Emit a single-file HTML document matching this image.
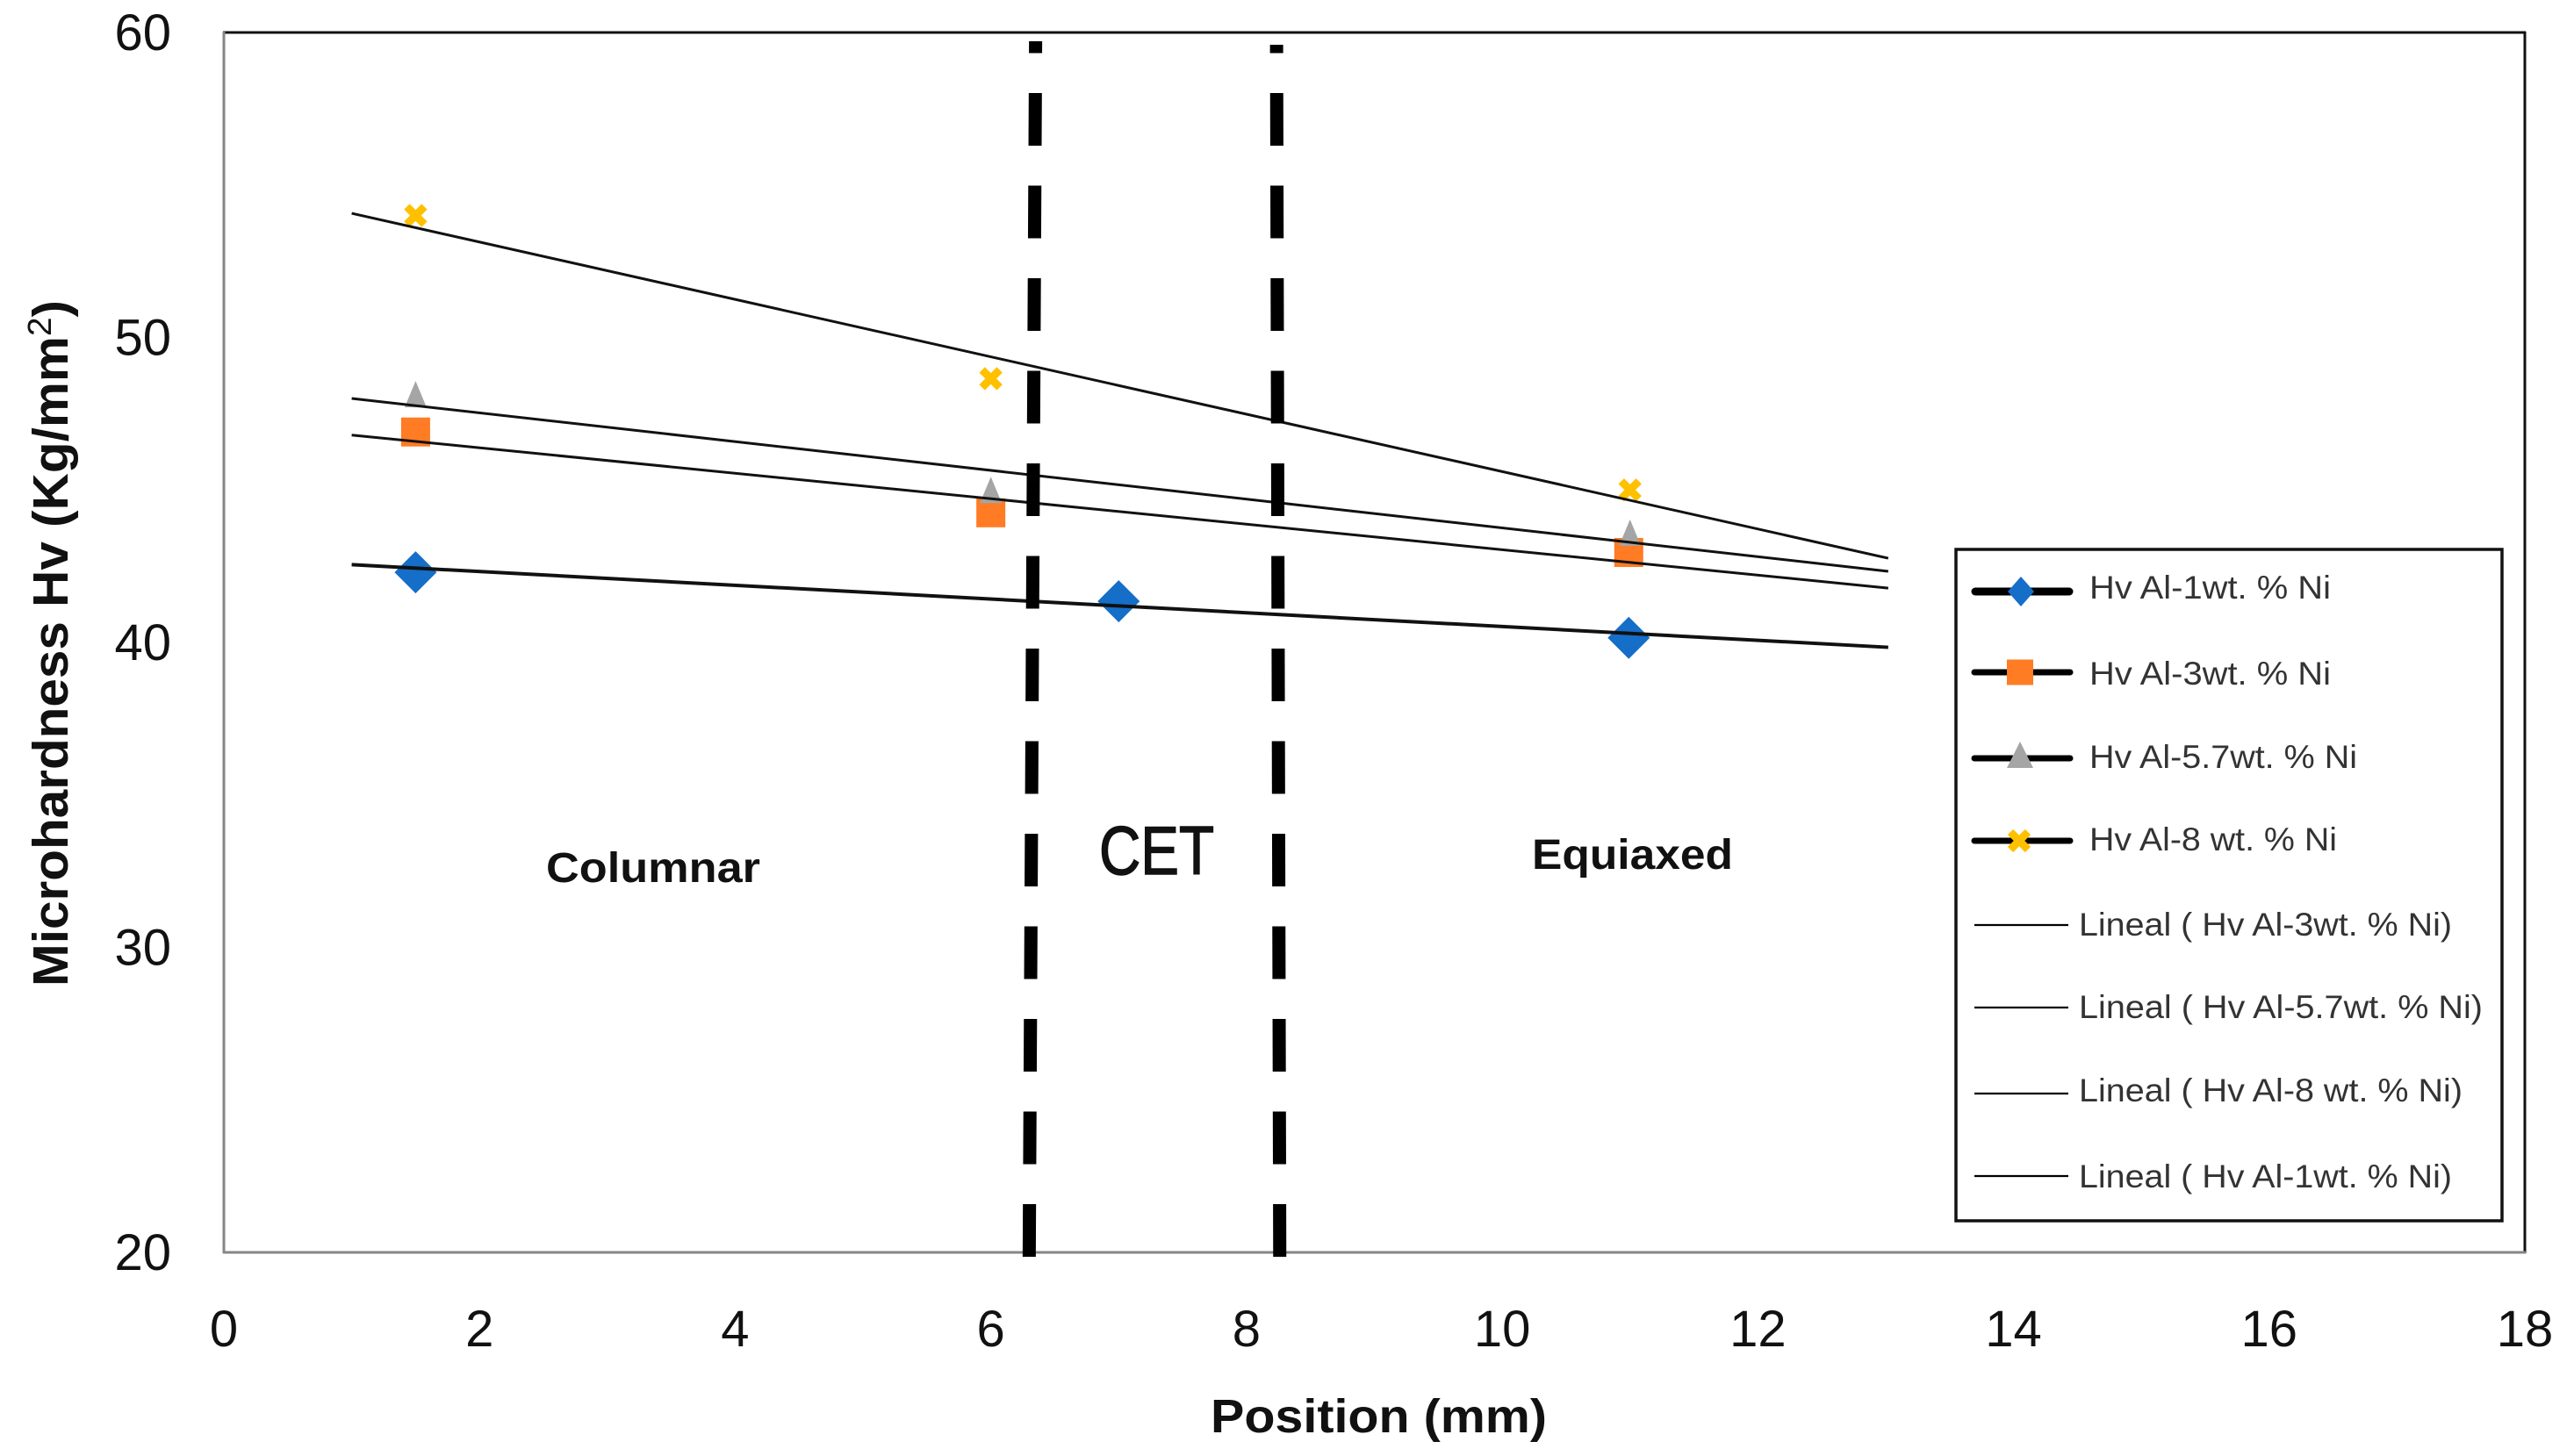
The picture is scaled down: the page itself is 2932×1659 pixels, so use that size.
<!DOCTYPE html>
<html lang="en">
<head>
<meta charset="utf-8">
<title>Microhardness vs Position</title>
<style>
html,body{margin:0;padding:0;background:#fff;}
svg{display:block;}
text{font-family:"Liberation Sans",sans-serif;fill:#111;}
.legend-label{font-size:37px;fill:#333;}
</style>
</head>
<body>
<svg id="chart" xmlns="http://www.w3.org/2000/svg" width="2932" height="1659" viewBox="0 0 2932 1659">
  <rect x="0" y="0" width="2932" height="1659" fill="#fff"/>
  <g id="plot-border">
    <line x1="254" y1="37" x2="2877" y2="37" stroke="#111" stroke-width="3"/>
    <line x1="2876" y1="36" x2="2876" y2="1428" stroke="#111" stroke-width="3"/>
    <line x1="255" y1="36" x2="255" y2="1428" stroke="#868686" stroke-width="3"/>
    <line x1="254" y1="1427" x2="2877" y2="1427" stroke="#868686" stroke-width="3"/>
  </g>
  <g id="x-ticks"></g>
  <g id="y-ticks"></g>
  <text transform="translate(77,1124) rotate(-90)" font-size="57" font-weight="700" textLength="782" lengthAdjust="spacingAndGlyphs">Microhardness Hv (Kg/mm<tspan font-size="38" font-weight="400" dy="-19">2</tspan><tspan dy="19">)</tspan></text>
  <text x="1379" y="1632" font-size="54" font-weight="700" textLength="383" lengthAdjust="spacingAndGlyphs">Position (mm)</text>
  <g id="markers"></g>
  <g id="trends"></g>
  <g id="boundaries"></g>
  <text x="622" y="1005" font-size="48" font-weight="700" textLength="244" lengthAdjust="spacingAndGlyphs">Columnar</text>
  <text x="1252" y="996" font-size="78" stroke="#111" stroke-width="1.5" textLength="131" lengthAdjust="spacingAndGlyphs">CET</text>
  <text x="1745" y="990" font-size="48" font-weight="700" textLength="229" lengthAdjust="spacingAndGlyphs">Equiaxed</text>
  <g id="legend">
    <rect x="2228" y="626" width="622" height="765" fill="#fff" stroke="#111" stroke-width="3.5"/>
    <g>
      <line x1="2250" y1="674" x2="2357" y2="674" stroke="#000" stroke-width="9" stroke-linecap="round"/>
      <polygon points="2302,657 2317,674 2302,691 2287,674" fill="#156EC8"/>
      <text class="legend-label" x="2380" y="682" textLength="275" lengthAdjust="spacingAndGlyphs">Hv Al-1wt. % Ni</text>
    </g>
    <g>
      <line x1="2249" y1="766" x2="2358" y2="766" stroke="#000" stroke-width="7" stroke-linecap="round"/>
      <rect x="2286" y="751.5" width="30" height="29" fill="#FF7B24"/>
      <text class="legend-label" x="2380" y="780" textLength="275" lengthAdjust="spacingAndGlyphs">Hv Al-3wt. % Ni</text>
    </g>
    <g>
      <line x1="2249" y1="864" x2="2358" y2="864" stroke="#000" stroke-width="7" stroke-linecap="round"/>
      <polygon points="2301,845 2316,875 2286,875" fill="#A5A5A5"/>
      <text class="legend-label" x="2380" y="875" textLength="305" lengthAdjust="spacingAndGlyphs">Hv Al-5.7wt. % Ni</text>
    </g>
    <g>
      <line x1="2249" y1="958" x2="2358" y2="958" stroke="#000" stroke-width="7" stroke-linecap="round"/>
      <path d="M2290 948 L2310 968 M2310 948 L2290 968" stroke="#FFC000" stroke-width="9" fill="none"/>
      <text class="legend-label" x="2380" y="969" textLength="282" lengthAdjust="spacingAndGlyphs">Hv Al-8 wt. % Ni</text>
    </g>
    <g>
      <line x1="2249" y1="1054" x2="2356" y2="1054" stroke="#000" stroke-width="2.2"/>
      <text class="legend-label" x="2368" y="1066" textLength="425" lengthAdjust="spacingAndGlyphs">Lineal ( Hv Al-3wt. % Ni)</text>
    </g>
    <g>
      <line x1="2249" y1="1148" x2="2356" y2="1148" stroke="#000" stroke-width="2.2"/>
      <text class="legend-label" x="2368" y="1160" textLength="460" lengthAdjust="spacingAndGlyphs">Lineal ( Hv Al-5.7wt. % Ni)</text>
    </g>
    <g>
      <line x1="2249" y1="1246" x2="2356" y2="1246" stroke="#000" stroke-width="2.2"/>
      <text class="legend-label" x="2368" y="1255" textLength="437" lengthAdjust="spacingAndGlyphs">Lineal ( Hv Al-8 wt. % Ni)</text>
    </g>
    <g>
      <line x1="2249" y1="1340" x2="2356" y2="1340" stroke="#000" stroke-width="2.2"/>
      <text class="legend-label" x="2368" y="1353" textLength="425" lengthAdjust="spacingAndGlyphs">Lineal ( Hv Al-1wt. % Ni)</text>
    </g>
  </g>
</svg>
<script>
const xTickLabels = [0, 2, 4, 6, 8, 10, 12, 14, 16, 18];
const yTickLabels = [20, 30, 40, 50, 60];

const al1Positions = [1.5, 7, 10.99];
const al1Hardness = [42.3, 41.35, 40.15];
const al3Positions = [1.5, 6, 10.99];
const al3Hardness = [46.9, 44.25, 42.95];
const al57Positions = [1.5, 6, 11];
const al57Hardness = [48.14, 45.0, 43.6];
const al8Positions = [1.5, 6, 11];
const al8Hardness = [54.0, 48.65, 45.0];

const trendPositions = [1, 13.02];
const al1Trend = [42.55, 39.84];
const al3Trend = [46.8, 41.78];
const al57Trend = [48.0, 42.33];
const al8Trend = [54.07, 42.76];

const boundaryBottoms = [6.3, 8.26];
const boundaryTops = [6.35, 8.235];

const SVG_NS = 'http://www.w3.org/2000/svg';
function xScale(v) { return 255 + (v - 0) * (2876 - 255) / 18; }
function yScale(v) { return 1427 - (v - 20) * (1427 - 37) / 40; }
function make(tag) { return document.createElementNS(SVG_NS, tag); }

const xGroup = document.getElementById('x-ticks');
xTickLabels.forEach(function (t) {
  const el = make('text');
  
  
  el.setAttribute('x', xScale(t));
  el.setAttribute('y', 1534);
  el.setAttribute('font-size', 58);
  el.setAttribute('text-anchor', 'middle');
  el.textContent = t;
  xGroup.appendChild(el);
});

const yGroup = document.getElementById('y-ticks');
yTickLabels.forEach(function (t) {
  const el = make('text');
  
  
  el.setAttribute('x', 195);
  el.setAttribute('y', yScale(t) + 20);
  el.setAttribute('font-size', 58);
  el.setAttribute('text-anchor', 'end');
  el.textContent = t;
  yGroup.appendChild(el);
});

const markerGroup = document.getElementById('markers');

al3Positions.forEach(function (p, i) {
  const cx = xScale(p), cy = yScale(al3Hardness[i]);
  const el = make('rect');
  
  
  el.setAttribute('x', cx - 16.5);
  el.setAttribute('y', cy - 16.5);
  el.setAttribute('width', 33);
  el.setAttribute('height', 33);
  el.setAttribute('fill', '#FF7B24');
  markerGroup.appendChild(el);
});

al1Positions.forEach(function (p, i) {
  const cx = xScale(p), cy = yScale(al1Hardness[i]);
  const el = make('polygon');
  
  
  el.setAttribute('points', cx + ',' + (cy - 24) + ' ' + (cx + 24) + ',' + cy + ' ' + cx + ',' + (cy + 24) + ' ' + (cx - 24) + ',' + cy);
  el.setAttribute('fill', '#156EC8');
  markerGroup.appendChild(el);
});

al57Positions.forEach(function (p, i) {
  const cx = xScale(p), cy = yScale(al57Hardness[i]);
  const el = make('polygon');
  
  
  el.setAttribute('points', cx + ',' + (cy - 15) + ' ' + (cx + 12.5) + ',' + (cy + 15) + ' ' + (cx - 12.5) + ',' + (cy + 15));
  el.setAttribute('fill', '#A5A5A5');
  markerGroup.appendChild(el);
});

al8Positions.forEach(function (p, i) {
  const cx = xScale(p), cy = yScale(al8Hardness[i]);
  const el = make('path');
  
  
  el.setAttribute('d', 'M' + (cx - 10) + ' ' + (cy - 10) + ' L' + (cx + 10) + ' ' + (cy + 10) + ' M' + (cx + 10) + ' ' + (cy - 10) + ' L' + (cx - 10) + ' ' + (cy + 10));
  el.setAttribute('stroke', '#FFC000');
  el.setAttribute('stroke-width', 9);
  el.setAttribute('fill', 'none');
  markerGroup.appendChild(el);
});

const trendGroup = document.getElementById('trends');
function addTrend(values, name, width) {
  const el = make('line');
  
  
  el.setAttribute('x1', xScale(trendPositions[0]));
  el.setAttribute('y1', yScale(values[0]));
  el.setAttribute('x2', xScale(trendPositions[1]));
  el.setAttribute('y2', yScale(values[1]));
  el.setAttribute('stroke', '#111');
  el.setAttribute('stroke-width', width);
  trendGroup.appendChild(el);
}
addTrend(al3Trend, 'trend-al-3', 3);
addTrend(al57Trend, 'trend-al-5-7', 3);
addTrend(al8Trend, 'trend-al-8', 3);
addTrend(al1Trend, 'trend-al-1', 4);

const boundaryGroup = document.getElementById('boundaries');
boundaryBottoms.forEach(function (b, i) {
  const el = make('line');
  
  
  el.setAttribute('x1', xScale(b));
  el.setAttribute('y1', 1432);
  el.setAttribute('x2', xScale(boundaryTops[i]));
  el.setAttribute('y2', i === 0 ? 47 : 51);
  el.setAttribute('stroke', '#000');
  el.setAttribute('stroke-width', 15);
  el.setAttribute('stroke-dasharray', '60 45.5');
  boundaryGroup.appendChild(el);
});
</script>
</body>
</html>
